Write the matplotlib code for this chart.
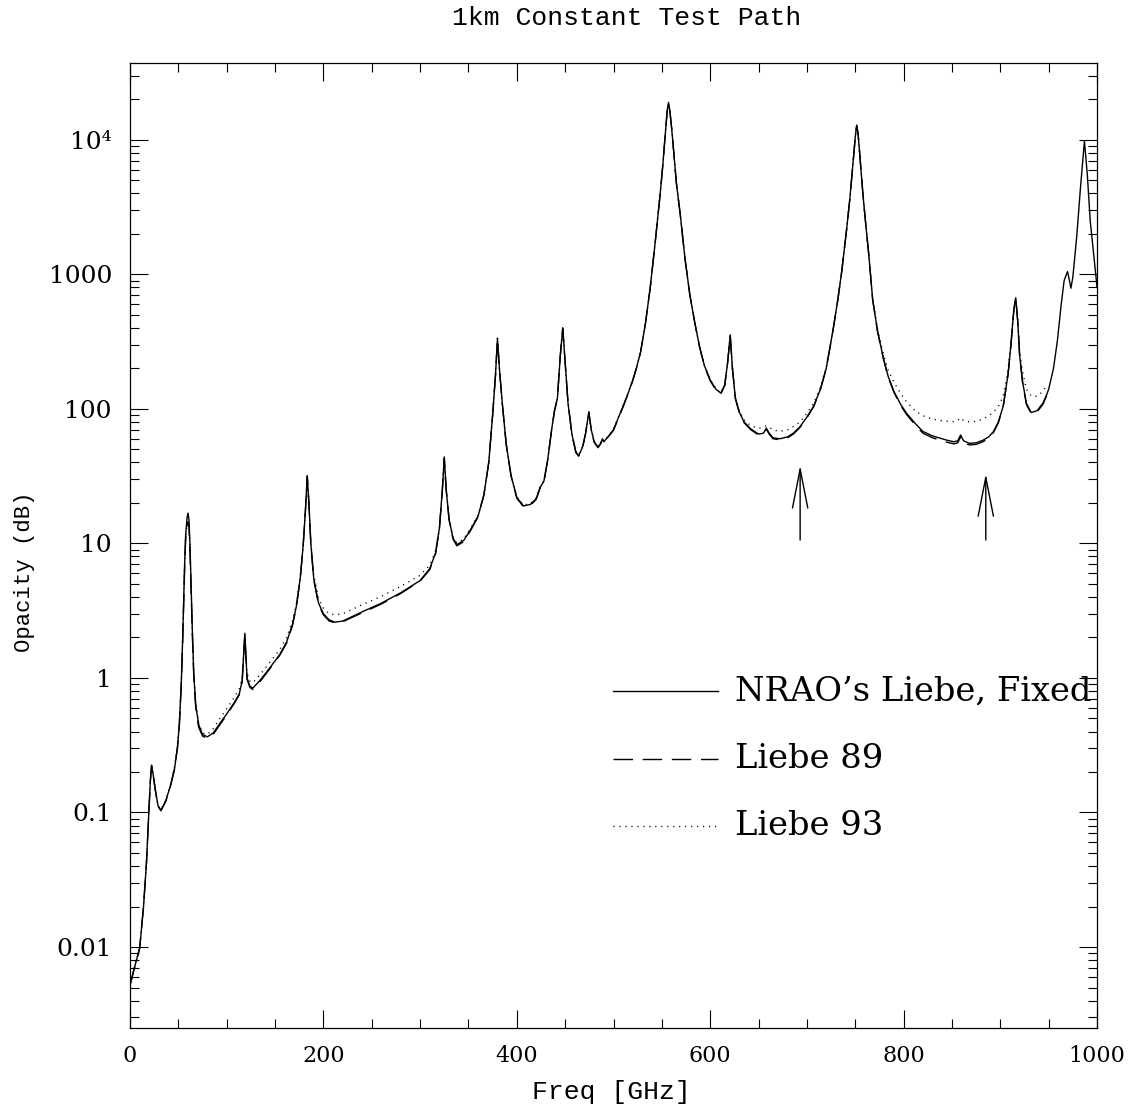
import matplotlib
matplotlib.use("Agg")
import matplotlib.pyplot as plt
from matplotlib.ticker import FixedLocator, NullFormatter, FixedFormatter, MultipleLocator

# frequency grid [GHz] (one line per stretch of spectrum)
FREQ = [0, 5, 10, 14, 17, 19.5, 21, 22.3, 24, 26, 29, 32, 37, 42, 46, 49, 51, 53, 54.5, 55.5, 56.5, 57.5, 59, 60, 61, 62, 63, 64.5, 66, 68, 71, 75, 80, 86, 93, 100,
        108, 113, 116, 118.75, 121, 124, 127, 135, 145, 155, 162, 168, 172, 176, 179, 181.5, 183.3, 185, 187, 190, 195, 200, 206, 212, 220, 240,
        260, 280, 300, 310, 316, 320, 323, 325, 327, 330, 334, 338, 345, 352, 360, 366, 371, 375, 378, 380, 382, 385, 389, 394, 400,
        407, 414, 420, 424, 428, 432, 436, 439, 442, 445, 447.5, 450, 453, 457, 461, 464, 468, 471, 474.5, 477, 480, 484, 487, 488.5, 490, 495,
        500, 505, 510, 515, 520, 524, 528, 533, 538, 543, 548, 551, 553.5, 555.5, 556.9, 558.3, 560, 562, 565, 569, 574, 579, 584, 589, 594, 600, 606, 611,
        615, 618, 620.7, 623, 626, 630, 635, 642, 650, 655, 658, 661, 665, 672, 680, 686, 693,
        700, 707, 714, 720, 727, 732, 736, 741, 744.5, 747.5, 750, 751.5, 753, 755, 758, 761, 764, 768, 773, 779, 784, 790, 797, 803,
        812, 820, 830, 838, 845, 852, 856, 859, 862, 868, 875, 882, 888, 893, 898, 903, 908, 911, 914, 916, 918, 920, 923, 927, 932, 938, 944, 948,
        950, 955, 959, 963, 966, 969.5, 971.5, 973, 975, 979, 983, 987, 990, 993, 1000]

# opacity [dB] -- NRAO's Liebe, Fixed (solid)
NRAO_FIXED = [0.0052, 0.0072, 0.0098, 0.02, 0.042, 0.1, 0.17, 0.225, 0.19, 0.15, 0.112, 0.104, 0.122, 0.16, 0.21, 0.3, 0.45, 0.9, 2.0, 3.8, 7.0, 11.5, 15.5, 16.8, 15, 10, 5.5, 2.2, 1.05, 0.63, 0.45, 0.38, 0.365, 0.39, 0.46, 0.54,
              0.66, 0.76, 0.95, 2.15, 1.0, 0.87, 0.84, 0.97, 1.2, 1.5, 1.85, 2.5, 3.4, 5.5, 9.5, 18, 32, 20, 10, 5.5, 3.6, 3.0, 2.7, 2.6, 2.65, 3.1,
              3.6, 4.3, 5.3, 6.5, 8.5, 13, 25, 44, 25, 15, 11, 9.8, 10.5, 12.6, 16, 23, 40, 90, 180, 335, 200, 110, 55, 32, 22,
              19, 19.5, 21.5, 26, 29, 42, 70, 97, 120, 250, 400, 220, 110, 65, 48, 45, 52, 65, 95, 70, 57, 52, 56, 60, 57, 63,
              70, 86, 105, 130, 164, 205, 265, 430, 800, 1700, 3800, 6500, 11000, 16500, 19000, 16500, 12500, 8600, 4800, 2800, 1300, 700, 440, 290, 210, 164, 140, 131,
              150, 220, 355, 200, 120, 95, 80, 71, 65, 66, 72, 66, 61, 60, 62, 66, 74,
              87, 105, 140, 200, 385, 650, 1050, 2140, 3700, 6500, 10500, 12900, 11000, 7200, 3900, 2300, 1400, 650, 380, 240, 175, 135, 108, 93,
              78, 68, 63, 60.5, 58.5, 57, 58, 64, 58, 55.5, 56, 58.5, 62, 68, 80, 105, 180, 300, 550, 670, 450, 250, 160, 110, 94, 97, 110, 128,
              140, 200, 320, 600, 900, 1050, 900, 790, 950, 1900, 4500, 9800, 5500, 2500, 810]

# Liebe 89 (dashed), up to 948 GHz
LIEBE89 = [0.0052, 0.0072, 0.0098, 0.02, 0.042, 0.1, 0.17, 0.222, 0.19, 0.15, 0.111, 0.103, 0.121, 0.158, 0.21, 0.3, 0.44, 0.88, 1.9, 3.6, 6.6, 10.5, 13.5, 14.5, 13.5, 9, 5.0, 2.1, 1.0, 0.6, 0.43, 0.37, 0.355, 0.38, 0.45, 0.53,
           0.65, 0.75, 0.94, 2.1, 0.98, 0.85, 0.82, 0.95, 1.18, 1.48, 1.82, 2.45, 3.35, 5.4, 9.4, 18, 31.5, 20, 10, 5.4, 3.5, 2.95, 2.65, 2.57, 2.62, 3.05,
           3.55, 4.25, 5.25, 6.4, 8.4, 13, 25, 43, 25, 15, 10.8, 9.6, 10.3, 12.4, 15.8, 23, 40, 90, 180, 330, 200, 110, 55, 32, 21.7,
           18.7, 19.2, 21.2, 25.7, 28.7, 42, 70, 97, 120, 250, 395, 220, 110, 65, 47.5, 44.5, 51.5, 65, 93, 70, 56.5, 51.5, 55.5, 59.5, 56.5, 62.5,
           69.5, 85, 104, 129, 163, 204, 264, 430, 800, 1700, 3800, 6500, 11000, 16200, 18500, 16200, 12500, 8600, 4800, 2800, 1300, 700, 440, 289, 208, 162, 138, 129,
           150, 220, 350, 200, 120, 94, 79, 70, 64, 65, 71, 65, 60, 59, 61, 65, 73,
           86, 104, 140, 200, 385, 650, 1050, 2140, 3700, 6500, 10300, 12700, 11000, 7200, 3900, 2300, 1400, 650, 378, 238, 173, 133, 106, 91,
           76, 66, 61, 58.5, 56.5, 55, 56, 62, 56, 54, 54.5, 57, 60.5, 67, 79, 104, 180, 300, 540, 660, 450, 250, 158, 108, 92, 95, 108, 126]

# Liebe 93 (dotted), up to 948 GHz
LIEBE93 = [0.0052, 0.0072, 0.0098, 0.02, 0.042, 0.1, 0.17, 0.222, 0.19, 0.15, 0.112, 0.105, 0.124, 0.162, 0.22, 0.31, 0.46, 0.9, 2.0, 3.8, 7.0, 11, 14, 14.5, 13.5, 9.5, 5.2, 2.2, 1.05, 0.64, 0.46, 0.39, 0.38, 0.42, 0.5, 0.59,
           0.72, 0.83, 1.0, 2.1, 1.08, 0.95, 0.92, 1.07, 1.32, 1.63, 2.0, 2.65, 3.55, 5.6, 9.6, 18, 32, 20, 10.2, 5.8, 3.9, 3.3, 3.0, 2.95, 3.0, 3.5,
           4.05, 4.8, 5.8, 6.9, 8.8, 13, 25, 43, 25, 15.2, 11.2, 10.1, 10.8, 12.9, 16.2, 23, 40, 90, 180, 335, 200, 110, 55, 32, 22.3,
           19.3, 19.8, 21.8, 26.2, 29.2, 42, 70, 97, 120, 250, 400, 220, 110, 65, 48.5, 45.5, 52.5, 65, 95, 70, 57.5, 52.5, 56.5, 60, 57.5, 63.5,
           70.5, 87, 106, 131, 166, 206, 266, 430, 800, 1700, 3800, 6500, 11000, 16500, 19000, 16500, 12500, 8600, 4800, 2800, 1300, 700, 440, 291, 211, 166, 141, 132,
           150, 220, 355, 200, 122, 97, 83, 75, 72, 73, 75, 73, 70, 68, 70, 74, 80,
           93, 110, 145, 205, 390, 655, 1050, 2140, 3700, 6500, 10500, 12900, 11000, 7200, 3900, 2300, 1400, 660, 395, 258, 195, 158, 130, 113,
           97, 89, 84, 82, 81, 80.5, 82, 86, 82, 80, 81, 84, 89, 95, 104, 125, 195, 310, 550, 670, 460, 270, 190, 140, 125, 124, 135, 150]

ARROW_FREQ = [693, 885]
ARROW_TAIL = [10.6, 10.6]
ARROW_TIP = [38, 33]

YTICKS = [0.01, 0.1, 1, 10, 100, 1000, 1e4]
YTICK_LABELS = ["0.01", "0.1", "1", "10", "100", "1000", "10\u2074"]

SERIF = "DejaVu Serif"
MONO = "Liberation Mono"
DASHED = (0, (14, 7))
DOTTED = (0, (0.8, 3.5))


def main():
    fig = plt.figure(figsize=(11.38, 11.14), dpi=100)
    ax = fig.add_axes([130 / 1138, 1 - 1028 / 1114, 967 / 1138, 965 / 1114])

    ax.plot(FREQ, NRAO_FIXED, color="black", lw=1.0)
    ax.plot(FREQ[:len(LIEBE89)], LIEBE89, color="black", lw=1.0, ls=DASHED)
    ax.plot(FREQ[:len(LIEBE93)], LIEBE93, color="black", lw=1.0, ls=DOTTED)

    ax.set_yscale("log")
    ax.set_xlim(0, 1000)
    ax.set_ylim(0.0025, 3.73e4)

    ax.xaxis.set_major_locator(MultipleLocator(200))
    ax.xaxis.set_minor_locator(MultipleLocator(50))
    ax.yaxis.set_major_locator(FixedLocator(YTICKS))
    ax.yaxis.set_major_formatter(FixedFormatter(YTICK_LABELS))
    minors = [m * 10.0 ** e for e in range(-3, 5) for m in range(2, 10)]
    ax.yaxis.set_minor_locator(FixedLocator(minors))
    ax.yaxis.set_minor_formatter(NullFormatter())

    ax.tick_params(which="both", direction="in", top=True, right=True,
                   width=0.8, color="black")
    ax.tick_params(which="major", length=13)
    ax.tick_params(which="minor", length=6.5)
    ax.tick_params(axis="y", which="major", pad=13, labelsize=18)
    ax.tick_params(axis="x", which="major", pad=12, labelsize=16)
    for lab in ax.get_xticklabels() + ax.get_yticklabels():
        lab.set_family(SERIF)
    for sp in ax.spines.values():
        sp.set_linewidth(0.9)

    # arrows marking the frequencies of interest
    for f, lo, hi in zip(ARROW_FREQ, ARROW_TAIL, ARROW_TIP):
        ax.annotate("", xy=(f, hi), xytext=(f, lo),
                    arrowprops=dict(arrowstyle="->,head_length=2.8,head_width=0.55",
                                    lw=1.0, color="black", shrinkA=0, shrinkB=0,
                                    mutation_scale=10))

    # legend drawn by hand
    styles = ["-", DASHED, DOTTED]
    names = ["NRAO\u2019s Liebe, Fixed", "Liebe 89", "Liebe 93"]
    for i, (ls, name) in enumerate(zip(styles, names)):
        y = 0.349 - i * 0.07
        ax.plot([0.4995, 0.608], [y, y], transform=ax.transAxes, color="black",
                lw=1.0, ls=ls, clip_on=False)
        ax.text(0.6256, y, name, transform=ax.transAxes, ha="left", va="center",
                fontsize=24.3, family=SERIF)

    fig.text(627 / 1138, 1 - 18 / 1114, "1km Constant Test Path", ha="center",
             va="center", fontsize=19, family=MONO)
    fig.text(611 / 1138, 1 - 1092 / 1114, "Freq [GHz]", ha="center", va="center",
             fontsize=19, family=MONO)
    fig.text(25 / 1138, 1 - 572 / 1114, "Opacity (dB)", ha="center", va="center",
             rotation=90, fontsize=16, family=MONO)

    fig.savefig("out.png", dpi=100, facecolor="white")
    plt.close(fig)


if __name__ == "__main__":
    main()
